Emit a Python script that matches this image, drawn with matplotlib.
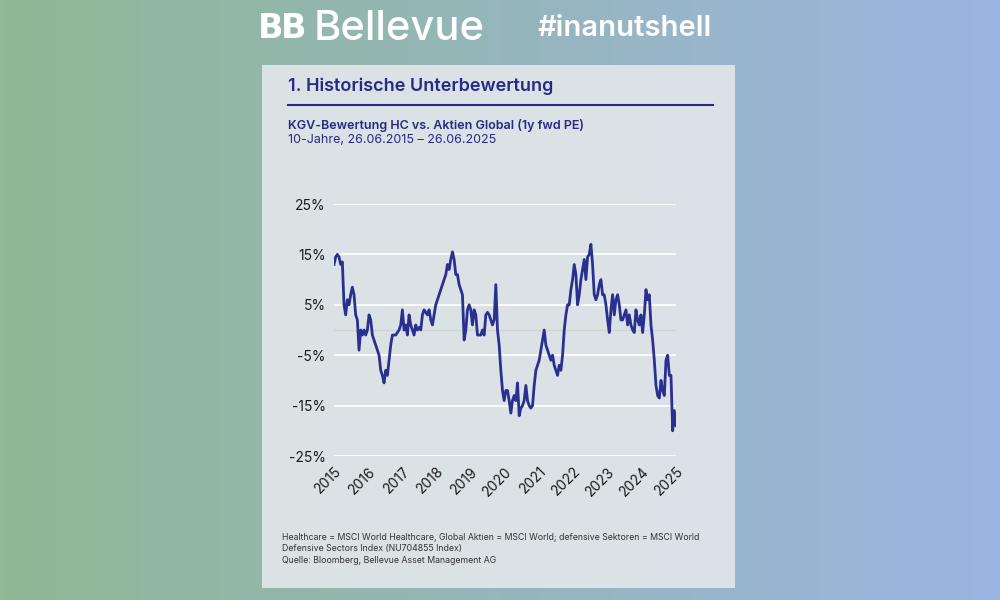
import matplotlib.pyplot as plt
import numpy as np
from matplotlib.patches import Rectangle

# relative 1y fwd PE, HC vs global
values = [13, 14.5, 15, 14.5, 13, 13.5, 5, 3, 6, 5, 7, 8.5, 7, 3, 2, -4, 0, -1, 0, -1,
          0, 3, 2, -1, -2, -3, -4, -5, -8, -9, -10.5, -8, -9, -6, -3, -1, -1, -1, -0.5, 0,
          1, 4, 0, 1, -1, 3, 1, 0, -1, 1, 0, 0.5, 0, 3, 4, 3.5, 3, 4, 2, 1,
          3, 5, 6, 7, 8, 9, 10, 11, 13, 12, 14, 15.5, 14, 11, 11, 9, 8, 7, -2, 0,
          4, 5, 4, 1, 4, 3, -1, -1, -1, 0, -1, 3, 3.5, 3, 2, 1, 2, 9, 0, -3,
          -8, -12, -14, -12, -12, -14, -16.5, -14, -13, -14, -10.5, -17, -15.5, -15, -14, -11, -14, -15, -15.5, -15,
          -11, -8, -7, -6, -4, -2, 0, -3, -4, -5, -6, -5, -7, -8, -9, -7, -8, -5, 0, 3,
          5, 5, 8, 10, 13, 11, 5, 7, 10, 12, 14, 10, 14.5, 15, 17, 13, 7, 6, 7, 9,
          10, 7, 7, 5, 2, -0.5, 4, 7, 3, 6, 7, 5, 2, 2, 3, 4, 1, 3, 1, 0,
          -0.5, 4, 2, 1, 3, -0.5, 3, 8, 6, 7, 1, -2, -6, -11, -13, -13.5, -10, -12, -13, -6,
          -5, -9, -9, -20, -16, -19]
years = list(range(2015, 2026))
yticks = [-25, -15, -5, 5, 15, 25]

navy = '#252a86'

fig = plt.figure(figsize=(10, 6), dpi=100)

# gradient background
bg = fig.add_axes([0, 0, 1, 1])
grad = np.linspace(0, 1, 256)
c1 = np.array([0x8f, 0xb8, 0x94]) / 255
c2 = np.array([0x9c, 0xb4, 0xe2]) / 255
img = c1[None, :] * (1 - grad[:, None]) + c2[None, :] * grad[:, None]
bg.imshow(img[None, :, :], aspect='auto', extent=[0, 1, 0, 1])
bg.set_xlim(0, 1)
bg.set_ylim(0, 1)
bg.axis('off')

# panel
bg.add_patch(Rectangle((0.262, 1 - 588 / 600), 0.473, 523 / 600, facecolor='#e2e7ea', edgecolor='none', alpha=0.92))
bg.plot([0.288, 0.713], [1 - 105 / 600] * 2, color=navy, lw=1.5)

# header
fig.text(0.258, 1 - 28 / 600, 'B', color='white', fontsize=24, fontweight='bold', va='center')
fig.text(0.281, 1 - 28 / 600, 'B', color='white', fontsize=24, fontweight='bold', va='center')
fig.text(0.314, 1 - 29 / 600, 'Bellevue', color='white', fontsize=30, family='Inter',
         fontweight='medium', va='center')
fig.text(0.538, 1 - 28 / 600, '#inanutshell', color='white', fontsize=21, family='Inter',
         fontweight='semibold', va='center')

fig.text(0.288, 1 - 86 / 600, '1. Historische Unterbewertung', color=navy, fontsize=13,
         family='Inter', fontweight='semibold', va='center')
fig.text(0.288, 1 - 125 / 600, 'KGV-Bewertung HC vs. Aktien Global (1y fwd PE)', color=navy,
         fontsize=9, family='Inter', fontweight='semibold', va='center')
fig.text(0.288, 1 - 140 / 600, '10-Jahre, 26.06.2015 – 26.06.2025', color=navy,
         fontsize=9, family='Inter', va='center')

foot = ('Healthcare = MSCI World Healthcare, Global Aktien = MSCI World; defensive Sektoren = MSCI World\n'
        'Defensive Sectors Index (NU704855 Index)\n'
        'Quelle: Bloomberg, Bellevue Asset Management AG')
fig.text(0.282, 1 - 533 / 600, foot, color='#333333', fontsize=6.3, family='Inter',
         va='top', linespacing=1.35)

# chart
ax = fig.add_axes([0.334, 0.24, 0.342, 0.42])
ax.patch.set_alpha(0)
x = np.linspace(years[0], years[-1], len(values))
ax.axhline(0, color='#d0d3d3', lw=1, zorder=1)
ax.plot(x, values, color='#2b2f8f', lw=2.0, zorder=3)
ax.set_xlim(years[0], years[-1])
ax.set_ylim(-25, 25)
ax.set_yticks(yticks)
ax.set_yticklabels([f'{v}%' for v in yticks])
ax.set_xticks(years)
ax.set_xticklabels([str(y) for y in years], rotation=45, ha='right', rotation_mode='anchor')
ax.grid(axis='y', color='white', lw=1.2, zorder=0)
ax.grid(axis='x', visible=False)
for s in ax.spines.values():
    s.set_visible(False)
ax.tick_params(length=0, labelsize=10, colors='#1a1a1a', pad=6)
for lab in ax.get_xticklabels() + ax.get_yticklabels():
    lab.set_family('Inter')

fig.savefig('out.png', dpi=100)
